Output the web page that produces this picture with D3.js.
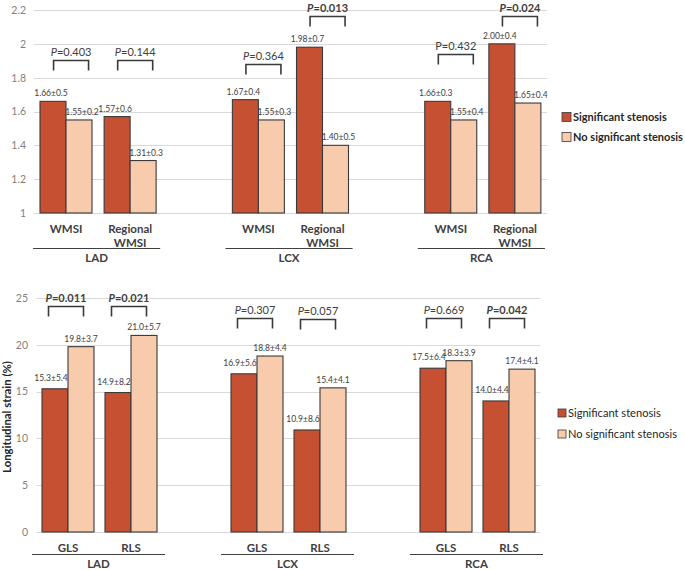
<!DOCTYPE html>
<html>
<head>
<meta charset="utf-8">
<script src="https://cdn.jsdelivr.net/npm/d3@7"></script>
<style>
  html, body { margin: 0; padding: 0; background: #fff; }
  svg { display: block; font-family: Lato, "Open Sans", sans-serif; }
</style>
</head>
<body>
<svg id="chart" width="685" height="570"></svg>
<script>
// ---------- data ----------
const groups = ["LAD", "LCX", "RCA"];
const seriesNames = ["Significant stenosis", "No significant stenosis"];

const topCategories = ["WMSI", "Regional WMSI", "WMSI", "Regional WMSI", "WMSI", "Regional WMSI"];
const topSig = [1.66, 1.57, 1.67, 1.98, 1.66, 2.00];
const topNon = [1.55, 1.31, 1.55, 1.40, 1.55, 1.65];
const topSigLabels = ["1.66±0.5", "1.57±0.6", "1.67±0.4", "1.98±0.7", "1.66±0.3", "2.00±0.4"];
const topNonLabels = ["1.55±0.2", "1.31±0.3", "1.55±0.3", "1.40±0.5", "1.55±0.4", "1.65±0.4"];
const topP = ["0.403", "0.144", "0.364", "0.013", "0.432", "0.024"];
const topPBold = [false, false, false, true, false, true];
const topPItalic = [true, true, true, true, false, true];
const topBracketLevel = [1.905, 1.905, 1.88, 2.165, 1.94, 2.165];
const topTicks = [1, 1.2, 1.4, 1.6, 1.8, 2, 2.2];

const botCategories = ["GLS", "RLS", "GLS", "RLS", "GLS", "RLS"];
const botSig = [15.3, 14.9, 16.9, 10.9, 17.5, 14.0];
const botNon = [19.8, 21.0, 18.8, 15.4, 18.3, 17.4];
const botSigLabels = ["15.3±5.4", "14.9±8.2", "16.9±5.6", "10.9±8.6", "17.5±6.4", "14.0±4.4"];
const botNonLabels = ["19.8±3.7", "21.0±5.7", "18.8±4.4", "15.4±4.1", "18.3±3.9", "17.4±4.1"];
const botP = ["0.011", "0.021", "0.307", "0.057", "0.669", "0.042"];
const botPBold = [true, true, false, false, false, true];
const botPItalic = [true, true, true, true, true, true];
const botBracketLevel = [24.1, 24.1, 22.9, 22.8, 22.9, 22.9];
const botTicks = [0, 5, 10, 15, 20, 25];
const yTitleBottom = "Longitudinal strain (%)";

// slot index of each category (empty slot between groups)
const slotIndex = [0, 1, 3, 4, 6, 7];

const colors = { sig: "#C65032", non: "#F8CBAD" };
const txt = "#404040";

const svg = d3.select("#chart");

// scale a text's font size so it fits a target width
function fitWidth(sel, target) {
  const node = sel.node();
  let fs = parseFloat(sel.attr("font-size"));
  const w = node.getComputedTextLength();
  if (w > 0) {
    fs = fs * target / w;
    sel.attr("font-size", fs.toFixed(2));
  }
}

function drawPanel(cfg) {
  const g = svg.append("g");
  const x = d3.scaleBand().domain(d3.range(8)).range([cfg.left, cfg.right]).padding(0);
  const inner = d3.scaleBand().domain(["sig", "non"])
    .range([cfg.barOffset, cfg.barOffset + 2 * cfg.barWidth]).padding(0);
  const y = d3.scaleLinear().domain(cfg.domain).range([cfg.bottom, cfg.top]);

  // gridlines
  g.append("g").selectAll("line").data(cfg.ticks).join("line")
    .attr("x1", cfg.left).attr("x2", cfg.right)
    .attr("y1", d => Math.round(y(d)) + 0.5).attr("y2", d => Math.round(y(d)) + 0.5)
    .attr("stroke", "#D9D9D9").attr("stroke-width", 1);

  // y axis labels via d3 axis
  const yAxis = d3.axisLeft(y).tickValues(cfg.ticks).tickSize(0).tickPadding(0)
    .tickFormat(d3.format(cfg.tickFormat));
  const ax = g.append("g").attr("transform", `translate(${cfg.tickX},0)`).call(yAxis);
  ax.select(".domain").remove();
  ax.selectAll("text").attr("fill", "#7F7F7F").attr("font-size", 10.5)
    .attr("font-family", "Lato, sans-serif");

  const rows = cfg.cats.map((c, i) => ({
    i, cat: c, slot: slotIndex[i], sig: cfg.sig[i], non: cfg.non[i],
    sigL: cfg.sigLabels[i], nonL: cfg.nonLabels[i]
  }));

  // bars
  const bars = [];
  rows.forEach(r => {
    bars.push({ r, key: "sig", v: r.sig, label: r.sigL });
    bars.push({ r, key: "non", v: r.non, label: r.nonL });
  });
  g.append("g").selectAll("rect").data(bars).join("rect")
    .attr("x", d => x(d.r.slot) + inner(d.key))
    .attr("width", inner.bandwidth())
    .attr("y", d => y(d.v))
    .attr("height", d => y(cfg.domain[0]) - y(d.v))
    .attr("fill", d => colors[d.key])
    .attr("stroke", "#3A3A3A").attr("stroke-width", 1.1);

  // value labels
  g.append("g").selectAll("text").data(bars).join("text")
    .attr("x", d => x(d.r.slot) + inner(d.key) + inner.bandwidth() / 2 + cfg.labelDx[d.key])
    .attr("y", d => y(d.v) - cfg.labelGap[d.key])
    .attr("text-anchor", "middle")
    .attr("font-size", 8.5).attr("fill", txt)
    .text(d => d.label);

  // p-value brackets
  const bw = 35, leg = 10;
  rows.forEach(r => {
    const cx = x(r.slot) + x.bandwidth() / 2 + cfg.bracketShift;
    const by = Math.round(y(cfg.bracket[r.i])) + 0.5;
    g.append("path")
      .attr("d", `M${cx - bw / 2},${by + leg}V${by}H${cx + bw / 2}V${by + leg}`)
      .attr("fill", "none").attr("stroke", "#3A3A3A").attr("stroke-width", 1.6);
    const t = g.append("text").attr("x", cx).attr("y", by - 4.5)
      .attr("text-anchor", "middle").attr("font-size", 11).attr("fill", txt)
      .attr("font-weight", cfg.pBold[r.i] ? "bold" : "normal");
    t.append("tspan").attr("font-style", cfg.pItalic[r.i] ? "italic" : "normal").text("P");
    t.append("tspan").text("=" + cfg.p[r.i]);
  });

  // category labels
  rows.forEach(r => {
    const cx = x(r.slot) + x.bandwidth() / 2;
    const words = r.cat.split(" ");
    const t = g.append("text").attr("x", cx).attr("y", cfg.catY)
      .attr("text-anchor", "middle").attr("font-size", 11.5)
      .attr("font-weight", "bold").attr("fill", txt);
    words.forEach((w, k) => {
      t.append("tspan").attr("x", cx).attr("dy", k === 0 ? 0 : 13.5).text(w);
    });
  });

  // group underlines + labels
  groups.forEach((grp, gi) => {
    const c0 = x(slotIndex[gi * 2]) + x.bandwidth() / 2;
    const c1 = x(slotIndex[gi * 2 + 1]) + x.bandwidth() / 2;
    const x0 = c0 + cfg.lineExt[0], x1 = c1 + cfg.lineExt[1];
    g.append("line").attr("x1", x0).attr("x2", x1)
      .attr("y1", cfg.lineY + 0.5).attr("y2", cfg.lineY + 0.5)
      .attr("stroke", "#404040").attr("stroke-width", 1.2);
    g.append("text").attr("x", (x0 + x1) / 2).attr("y", cfg.groupY)
      .attr("text-anchor", "middle").attr("font-size", 11.5)
      .attr("font-weight", "bold").attr("fill", txt).text(grp);
  });

  // legend
  const legTexts = [];
  seriesNames.forEach((name, k) => {
    const ly = cfg.legendY[k];
    g.append("rect").attr("x", cfg.legendX).attr("y", ly - cfg.legendSq / 2)
      .attr("width", cfg.legendSq).attr("height", cfg.legendSq)
      .attr("fill", k === 0 ? colors.sig : colors.non)
      .attr("stroke", "#3A3A3A").attr("stroke-width", 0.8);
    legTexts.push(g.append("text").attr("x", cfg.legendX + cfg.legendSq + 2).attr("y", ly)
      .attr("dy", "0.35em").attr("font-size", cfg.legendFont)
      .attr("font-weight", cfg.legendBold ? "bold" : "normal")
      .attr("fill", "#262626").text(name));
  });
  fitWidth(legTexts[1], cfg.legendWidth);
  legTexts[0].attr("font-size", legTexts[1].attr("font-size"));

  return { g, y };
}

drawPanel({
  left: 34, right: 547, top: 10, bottom: 213, domain: [1, 2.2],
  ticks: topTicks, tickFormat: "~g", tickX: 26,
  barOffset: 6, barWidth: 26,
  cats: topCategories, sig: topSig, non: topNon,
  sigLabels: topSigLabels, nonLabels: topNonLabels,
  labelGap: { sig: 5, non: 5 }, labelDx: { sig: -2, non: 3 },
  p: topP, pBold: topPBold, pItalic: topPItalic, bracket: topBracketLevel, bracketShift: 5,
  catY: 233, lineY: 248, lineExt: [-33, 30], groupY: 262,
  legendX: 562, legendY: [117, 137], legendSq: 9, legendFont: 11.5, legendBold: true,
  legendWidth: 110
});

drawPanel({
  left: 36.5, right: 540.5, top: 298, bottom: 532, domain: [0, 25],
  ticks: botTicks, tickFormat: "d", tickX: 28,
  barOffset: 5.5, barWidth: 26,
  cats: botCategories, sig: botSig, non: botNon,
  sigLabels: botSigLabels, nonLabels: botNonLabels,
  labelGap: { sig: 8, non: 5 }, labelDx: { sig: -4, non: 0 },
  p: botP, pBold: botPBold, pItalic: botPItalic, bracket: botBracketLevel, bracketShift: -2,
  catY: 552, lineY: 554, lineExt: [-36, 34], groupY: 568,
  legendX: 558, legendY: [413, 434], legendSq: 8, legendFont: 12, legendBold: false,
  legendWidth: 109
});

const yTitle = svg.append("text")
  .attr("transform", "translate(11,417) rotate(-90)")
  .attr("text-anchor", "middle").attr("font-size", 11.5)
  .attr("font-weight", "bold").attr("fill", "#262626")
  .text(yTitleBottom);
fitWidth(yTitle, 112);
</script>
</body>
</html>
